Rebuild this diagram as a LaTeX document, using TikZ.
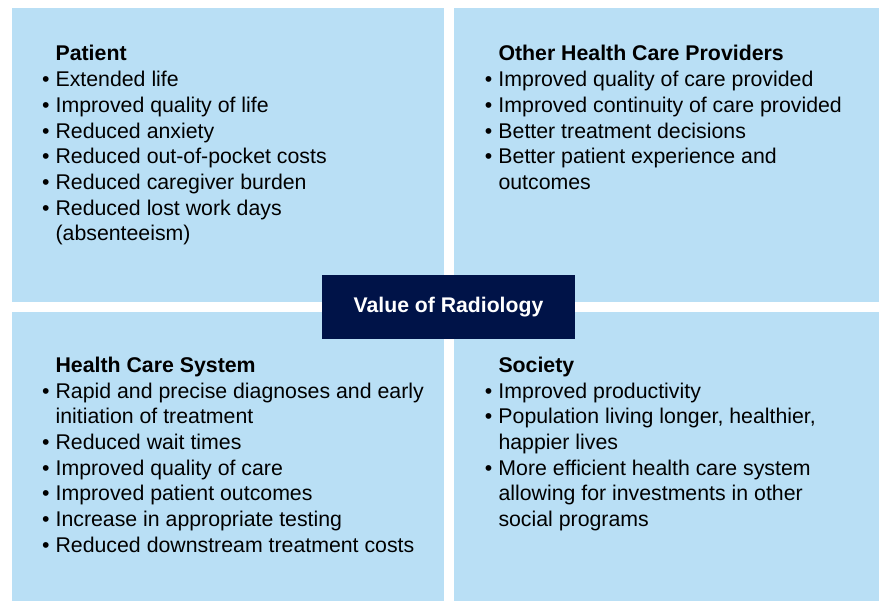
\documentclass[tikz,border=0pt]{standalone}
\usepackage{fontspec}
\setmainfont{Liberation Sans}
\definecolor{quadblue}{RGB}{185,223,245}
\definecolor{navy}{RGB}{0,19,72}
\begin{document}
\begin{tikzpicture}[x=1pt,y=-1pt,
  quad/.style={fill=quadblue},
  listtext/.style={anchor=base west,inner sep=0pt,font=\fontsize{21.3}{25.7}\selectfont,text=black},
  centerbox/.style={fill=navy,text=white,font=\fontsize{21.2}{25.7}\selectfont\bfseries,minimum width=253pt,minimum height=64pt,inner sep=0pt}]
\useasboundingbox (0,0) rectangle (879,601);
\fill[white] (0,0) rectangle (879,601);
\fill[quad] (12,8) rectangle (444,302);
\fill[quad] (454,8) rectangle (879,302);
\fill[quad] (12,312) rectangle (444,601);
\fill[quad] (454,312) rectangle (879,601);
\node[centerbox] (center) at (448.5,307) {Value of Radiology};
\node[listtext] (patient) at (41.8,61) {\begin{tabular}[t]{@{}p{13.6pt}@{}l@{}}
 & \textbf{Patient}\\
• & Extended life\\
• & Improved quality of life\\
• & Reduced anxiety\\
• & Reduced out-of-pocket costs\\
• & Reduced caregiver burden\\
• & Reduced lost work days\\
 & (absenteeism)
\end{tabular}};
\node[listtext] (providers) at (484.7,61) {\begin{tabular}[t]{@{}p{13.6pt}@{}l@{}}
 & \textbf{Other Health Care Providers}\\
• & Improved quality of care provided\\
• & Improved continuity of care provided\\
• & Better treatment decisions\\
• & Better patient experience and\\
 & outcomes
\end{tabular}};
\node[listtext] (system) at (41.8,372.5) {\begin{tabular}[t]{@{}p{13.6pt}@{}l@{}}
 & \textbf{Health Care System}\\
• & Rapid and precise diagnoses and early\\
 & initiation of treatment\\
• & Reduced wait times\\
• & Improved quality of care\\
• & Improved patient outcomes\\
• & Increase in appropriate testing\\
• & Reduced downstream treatment costs
\end{tabular}};
\node[listtext] (society) at (484.7,372.5) {\begin{tabular}[t]{@{}p{13.6pt}@{}l@{}}
 & \textbf{Society}\\
• & Improved productivity\\
• & Population living longer, healthier,\\
 & happier lives\\
• & More efficient health care system\\
 & allowing for investments in other\\
 & social programs
\end{tabular}};
\end{tikzpicture}
\end{document}
